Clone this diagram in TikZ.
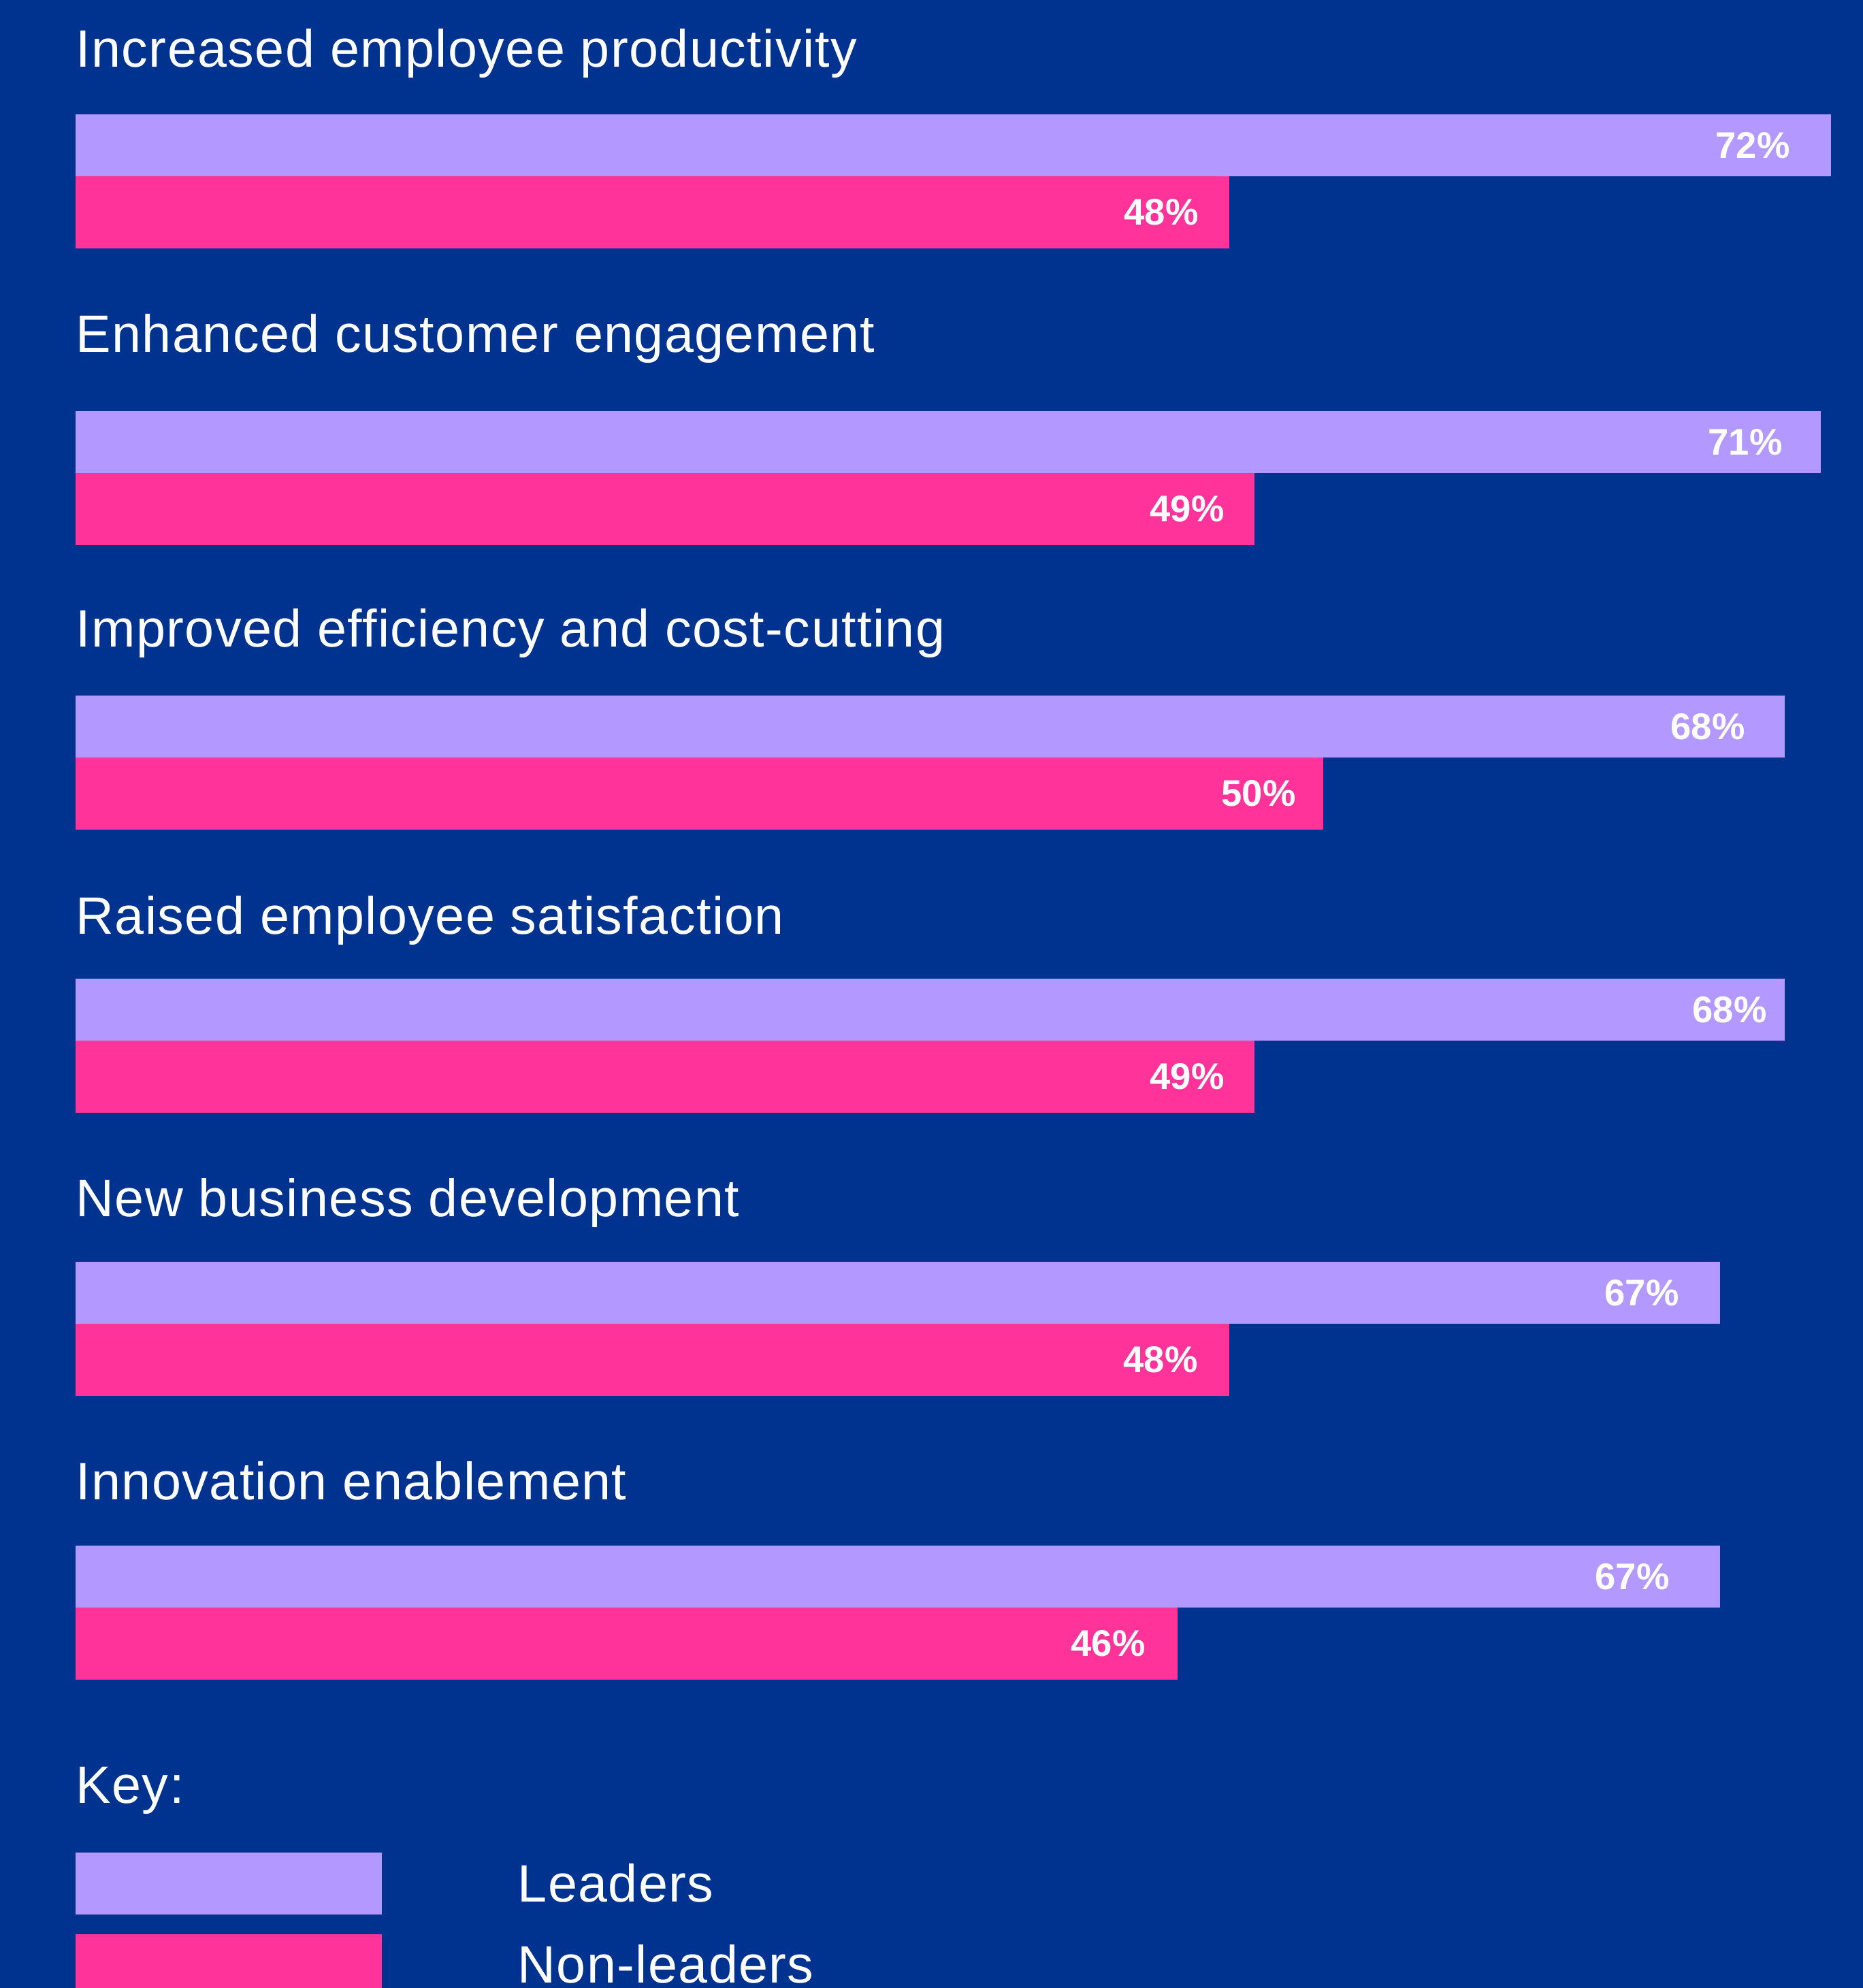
\documentclass[tikz,border=0pt]{standalone}
\usepackage{fontspec}
\setmainfont{Liberation Sans}
\newfontfamily\headfont[LetterSpace=1.8]{Liberation Sans}
\usetikzlibrary{positioning}
\definecolor{bgblue}{RGB}{0,51,143}
\definecolor{leadcol}{RGB}{179,153,255}
\definecolor{nonlcol}{RGB}{255,51,153}
\tikzset{
leaders/.style={fill=leadcol, draw=leadcol, line width=.4pt, anchor=north west, inner sep=0pt, minimum height=.9cm}, % the lilac bar of each pair
nonleaders/.style={fill=nonlcol, draw=nonlcol, line width=.4pt, anchor=north west, inner sep=0pt, minimum height=1.04cm}, % the pink bar right under it
heading/.style={text=white, anchor=base west, inner sep=0pt, font=\headfont\fontsize{22}{26}\selectfont}, % question texts and key
pct/.style={text=white, anchor=east, inner sep=0pt, font=\bfseries\fontsize{15.5}{18}\selectfont}, % numbers inside the bars
}

\begin{document}
\begin{tikzpicture}
    \useasboundingbox (0,0) rectangle (27.36,-29.21);
    \fill[bgblue] (-.1,.1) rectangle (27.46,-29.31);
    % productivity
    \node[heading] (t1) at (1.11,-0.98) {Increased employee productivity};
    \node[leaders, minimum width=25.78cm] (l1) at (1.11,-1.68) {};
    \node[nonleaders, minimum width=16.94cm] (n1) at (l1.south west) {};
    \node[pct, left=.6cm of l1.east] (lv1) {72\%};
    \node[pct, left=.45cm of n1.east] (nv1) {48\%};
    % customer engagement
    \node[heading] (t2) at (1.11,-5.17) {Enhanced customer engagement};
    \node[leaders, minimum width=25.63cm] (l2) at (1.11,-6.04) {};
    \node[nonleaders, minimum width=17.31cm] (n2) at (l2.south west) {};
    \node[pct, left=.56cm of l2.east] (lv2) {71\%};
    \node[pct, left=.44cm of n2.east] (nv2) {49\%};
    % efficiency
    \node[heading] (t3) at (1.11,-9.50) {Improved efficiency and cost-cutting};
    \node[leaders, minimum width=25.10cm] (l3) at (1.11,-10.22) {};
    \node[nonleaders, minimum width=18.32cm] (n3) at (l3.south west) {};
    \node[pct, left=.58cm of l3.east] (lv3) {68\%};
    \node[pct, left=.40cm of n3.east] (nv3) {50\%};
    % satisfaction
    \node[heading] (t4) at (1.11,-13.72) {Raised employee satisfaction};
    \node[leaders, minimum width=25.10cm] (l4) at (1.11,-14.38) {};
    \node[nonleaders, minimum width=17.31cm] (n4) at (l4.south west) {};
    \node[pct, left=.26cm of l4.east] (lv4) {68\%};
    \node[pct, left=.44cm of n4.east] (nv4) {49\%};
    % new business
    \node[heading] (t5) at (1.11,-17.87) {New business development};
    \node[leaders, minimum width=24.15cm] (l5) at (1.11,-18.54) {};
    \node[nonleaders, minimum width=16.94cm] (n5) at (l5.south west) {};
    \node[pct, left=.6cm of l5.east] (lv5) {67\%};
    \node[pct, left=.46cm of n5.east] (nv5) {48\%};
    % innovation
    \node[heading] (t6) at (1.11,-22.03) {Innovation enablement};
    \node[leaders, minimum width=24.15cm] (l6) at (1.11,-22.71) {};
    \node[nonleaders, minimum width=16.18cm] (n6) at (l6.south west) {};
    \node[pct, left=.74cm of l6.east] (lv6) {67\%};
    \node[pct, left=.47cm of n6.east] (nv6) {46\%};
    % key
    \node[heading] (key) at (1.11,-26.49) {Key:};
    \node[leaders, minimum width=4.49cm] (kl) at (1.11,-27.22) {};
    \node[nonleaders, minimum width=4.49cm, minimum height=.9cm] (kn) at (1.11,-28.42) {};
    \node[heading] (kltext) at (7.60,-27.94) {Leaders};
    \node[heading] (kntext) at (7.60,-29.13) {Non-leaders};
\end{tikzpicture}
\end{document}
